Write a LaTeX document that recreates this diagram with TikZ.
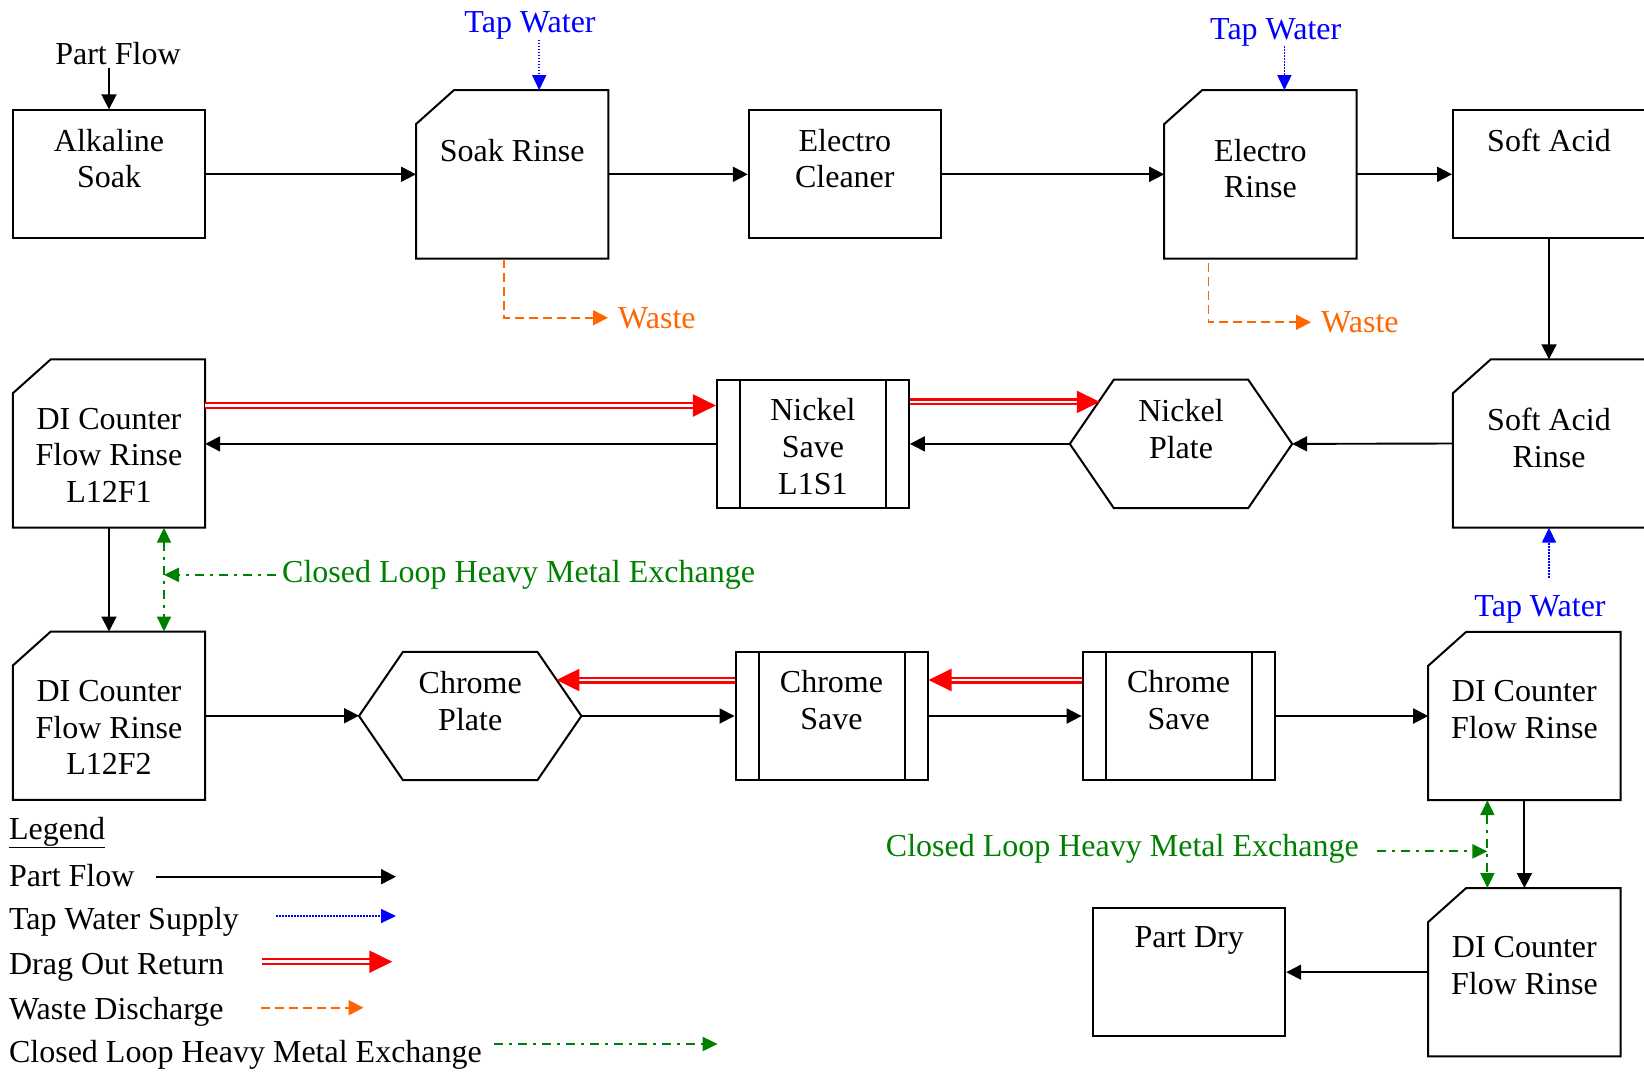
\documentclass[tikz,border=0pt]{standalone}
\usepackage{fontspec}
\setmainfont{Liberation Serif}
\usetikzlibrary{arrows.meta,positioning}
\definecolor{tapblue}{RGB}{0,0,255}
\definecolor{wasteorange}{RGB}{255,102,0}
\definecolor{metalgreen}{RGB}{0,128,0}
\definecolor{dragred}{RGB}{255,0,0}
\begin{document}
\begin{tikzpicture}[x=1pt,y=-1pt,
	unit/.style={draw, line width=2pt, minimum width=192pt, minimum height=128pt, inner sep=0pt},
	tank/.style={minimum width=192pt, minimum height=168pt, inner sep=0pt},
	hexa/.style={minimum width=222pt, minimum height=128pt, inner sep=0pt},
	shapeline/.style={line width=2pt, line join=miter},
	txtlbl/.style={font=\fontsize{32}{36.7}\selectfont, align=center, inner sep=0pt},
	flowline/.style={line width=1.9pt, -{Triangle[length=15pt,width=15pt]}},
	tapline/.style={draw=tapblue, line width=1.6pt, dash pattern=on 1.5pt off 1.5pt, -{Triangle[length=15pt,width=14pt]}},
	wasteline/.style={draw=wasteorange, line width=1.8pt, dash pattern=on 9pt off 5pt, -{Triangle[length=15pt,width=15pt]}},
	dragline/.style={draw=dragred, line width=2.2pt, double=white, double distance=2.6pt, -{Triangle[length=23pt,width=22pt]}},
	metalline/.style={draw=metalgreen, line width=2pt, dash pattern=on 9pt off 6pt on 3pt off 6pt, -{Triangle[length=15pt,width=14pt]}},
	metalboth/.style={metalline, {Triangle[length=15pt,width=14pt]}-{Triangle[length=15pt,width=14pt]}}]
	\useasboundingbox (0,0) rectangle (1644,1072);

	\node[unit] (alk) at (109,174.3) {};
	\node[txtlbl, below=19.5pt of alk.north] (alk-t) {Alkaline\\Soak};
	\node[tank] (sr) at (512.2,174.3) {};
	\draw[shapeline] ([yshift=-34pt]sr.north west) -- ([xshift=38pt]sr.north west) -- (sr.north east) -- (sr.south east) -- (sr.south west) -- cycle;
	\node[txtlbl, below=48.5pt of sr.north] (sr-t) {Soak Rinse};
	\node[unit] (ec) at (844.8,174.3) {};
	\node[txtlbl, below=19.5pt of ec.north] (ec-t) {Electro\\Cleaner};
	\node[tank] (er) at (1260.4,174.3) {};
	\draw[shapeline] ([yshift=-34pt]er.north west) -- ([xshift=38pt]er.north west) -- (er.north east) -- (er.south east) -- (er.south west) -- cycle;
	\node[txtlbl, below=48.5pt of er.north] (er-t) {Electro\\Rinse};
	\node[unit] (sa) at (1549,174.3) {};
	\node[txtlbl, below=19.5pt of sa.north] (sa-t) {Soft Acid};

	\node[tank] (sar) at (1549,443.5) {};
	\draw[shapeline] ([yshift=-34pt]sar.north west) -- ([xshift=38pt]sar.north west) -- (sar.north east) -- (sar.south east) -- (sar.south west) -- cycle;
	\node[txtlbl, below=48.5pt of sar.north] (sar-t) {Soft Acid\\Rinse};
	\node[hexa] (ni) at (1181,443.9) {};
	\draw[shapeline] (ni.west) -- ([xshift=44pt]ni.north west) -- ([xshift=-44pt]ni.north east) -- (ni.east) -- ([xshift=-44pt]ni.south east) -- ([xshift=44pt]ni.south west) -- cycle;
	\node[txtlbl, below=19.5pt of ni.north] (ni-t) {Nickel\\Plate};
	\node[unit] (ns) at (812.9,443.9) {};
	\draw[shapeline] ([xshift=24pt]ns.north west) -- ([xshift=24pt]ns.south west);
	\draw[shapeline] ([xshift=-24pt]ns.north east) -- ([xshift=-24pt]ns.south east);
	\node[txtlbl, below=19.5pt of ns.north] (ns-t) {Nickel\\Save\\L1S1};
	\node[tank] (d1) at (109,443.5) {};
	\draw[shapeline] ([yshift=-34pt]d1.north west) -- ([xshift=38pt]d1.north west) -- (d1.north east) -- (d1.south east) -- (d1.south west) -- cycle;
	\node[txtlbl, below=48.5pt of d1.north] (d1-t) {DI Counter\\Flow Rinse\\L12F1};

	\node[tank] (d2) at (109,715.7) {};
	\draw[shapeline] ([yshift=-34pt]d2.north west) -- ([xshift=38pt]d2.north west) -- (d2.north east) -- (d2.south east) -- (d2.south west) -- cycle;
	\node[txtlbl, below=48.5pt of d2.north] (d2-t) {DI Counter\\Flow Rinse\\L12F2};
	\node[hexa] (cp) at (470.2,716) {};
	\draw[shapeline] (cp.west) -- ([xshift=44pt]cp.north west) -- ([xshift=-44pt]cp.north east) -- (cp.east) -- ([xshift=-44pt]cp.south east) -- ([xshift=44pt]cp.south west) -- cycle;
	\node[txtlbl, below=19.5pt of cp.north] (cp-t) {Chrome\\Plate};
	\node[unit] (cs1) at (831.5,716) {};
	\draw[shapeline] ([xshift=24pt]cs1.north west) -- ([xshift=24pt]cs1.south west);
	\draw[shapeline] ([xshift=-24pt]cs1.north east) -- ([xshift=-24pt]cs1.south east);
	\node[txtlbl, below=19.5pt of cs1.north] (cs1-t) {Chrome\\Save};
	\node[unit] (cs2) at (1178.6,716) {};
	\draw[shapeline] ([xshift=24pt]cs2.north west) -- ([xshift=24pt]cs2.south west);
	\draw[shapeline] ([xshift=-24pt]cs2.north east) -- ([xshift=-24pt]cs2.south east);
	\node[txtlbl, below=19.5pt of cs2.north] (cs2-t) {Chrome\\Save};
	\node[tank] (d3) at (1524.4,716) {};
	\draw[shapeline] ([yshift=-34pt]d3.north west) -- ([xshift=38pt]d3.north west) -- (d3.north east) -- (d3.south east) -- (d3.south west) -- cycle;
	\node[txtlbl, below=48.5pt of d3.north] (d3-t) {DI Counter\\Flow Rinse};
	\node[tank] (d4) at (1524.4,972.2) {};
	\draw[shapeline] ([yshift=-34pt]d4.north west) -- ([xshift=38pt]d4.north west) -- (d4.north east) -- (d4.south east) -- (d4.south west) -- cycle;
	\node[txtlbl, below=48.5pt of d4.north] (d4-t) {DI Counter\\Flow Rinse};
	\node[unit] (pd) at (1189.2,972.2) {};
	\node[txtlbl, below=19.5pt of pd.north] (pd-t) {Part Dry};

	\node[txtlbl, anchor=base] (pf) at (118,64) {Part Flow};
	\node[txtlbl, anchor=base, text=tapblue] (tw1) at (530,32.5) {Tap Water};
	\node[txtlbl, anchor=base, text=tapblue] (tw2) at (1275.7,39) {Tap Water};
	\node[txtlbl, anchor=base, text=tapblue] (tw3) at (1540,616) {Tap Water};
	\node[txtlbl, anchor=base west, inner xsep=10pt, text=wasteorange] (w1) at (608,328) {Waste};
	\node[txtlbl, anchor=base west, inner xsep=10pt, text=wasteorange] (w2) at (1311,332.5) {Waste};
	\node[txtlbl, anchor=base west, inner xsep=6pt, text=metalgreen] (cl1) at (276,582.5) {Closed Loop Heavy Metal Exchange};
	\node[txtlbl, anchor=base west, text=metalgreen] (cl2) at (885.7,856) {Closed Loop Heavy Metal Exchange};

	\draw[flowline, shorten <=3pt] (pf.south -| alk.north) -- (alk.north);
	\draw[flowline] (alk.east) -- (sr.west);
	\draw[flowline] (sr.east) -- (ec.west);
	\draw[flowline] (ec.east) -- (er.west);
	\draw[flowline] (er.east) -- (sa.west);
	\draw[flowline] (sa.south) -- (sar.north);
	\draw[flowline] (sar.west) -- (ni.east);
	\draw[flowline] (ni.west) -- (ns.east);
	\draw[flowline] (ns.west) -- (ns.west -| d1.east);
	\draw[flowline] (d1.south) -- (d2.north);
	\draw[flowline] (d2.east) -- (d2.east -| cp.west);
	\draw[flowline] (cp.east) -- (cs1.west);
	\draw[flowline] (cs1.east) -- (cs2.west);
	\draw[flowline] (cs2.east) -- (d3.west);
	\draw[flowline] (d3.south) -- (d4.north);
	\draw[flowline] (d4.west) -- (pd.east);

	\coordinate (r1) at ([yshift=38pt]d1.east);
	\draw[dragline] (r1) -- (r1 -| ns.west);
	\draw[dragline] ([yshift=42pt]ns.east) -- ([xshift=30pt,yshift=42pt]ni.west);
	\draw[dragline] ([yshift=36pt]cs1.west) -- ([xshift=-25pt,yshift=36pt]cp.east);
	\draw[dragline] ([yshift=36pt]cs2.west) -- ([yshift=36pt]cs1.east);

	\coordinate (tw1in) at ([xshift=27pt]sr.north);
	\coordinate (tw2in) at ([xshift=24pt]er.north);
	\draw[tapline] (tw1.south -| tw1in) -- (tw1in);
	\draw[tapline] (tw2.south -| tw2in) -- (tw2in);
	\draw[tapline, shorten <=17pt] (tw3.north -| sar.south) -- (sar.south);

	\draw[wasteline] ([xshift=-8pt]sr.south) |- (w1.west);
	\draw[wasteline] ([xshift=-52pt,yshift=-4pt]er.south) |- (w2.west);

	\coordinate (m1a) at ([xshift=55pt]d1.south);
	\coordinate (m1b) at ([xshift=55pt]d2.north);
	\draw[metalboth] (m1a) -- (m1b);
	\draw[metalline] (cl1.west) -- (cl1.west -| m1a);
	\coordinate (m2a) at ([xshift=-37pt]d3.south);
	\coordinate (m2b) at ([xshift=-37pt]d4.north);
	\draw[metalboth] (m2a) -- (m2b);
	\draw[metalline, shorten <=18pt] ([yshift=-3pt]cl2.east) -- ([yshift=-3pt]cl2.east -| m2a);

	\node[txtlbl, anchor=base west] (lg) at (8.9,839) {\underline{Legend}};
	\node[txtlbl, anchor=base west] (lg1) at (8.9,886) {Part Flow};
	\node[txtlbl, anchor=base west] (lg2) at (8.9,929) {Tap Water Supply};
	\node[txtlbl, anchor=base west] (lg3) at (8.9,974) {Drag Out Return};
	\node[txtlbl, anchor=base west] (lg4) at (8.9,1019) {Waste Discharge};
	\node[txtlbl, anchor=base west] (lg5) at (8.9,1062.5) {Closed Loop Heavy Metal Exchange};
	\coordinate (lg1a) at (156,876.7);
	\coordinate (lg1b) at (396,876.7);
	\coordinate (lg2a) at (276,916);
	\coordinate (lg2b) at (396,916);
	\coordinate (lg3a) at (261.5,961.7);
	\coordinate (lg3b) at (392.3,961.7);
	\coordinate (lg4a) at (260.5,1007.7);
	\coordinate (lg4b) at (363.5,1007.7);
	\coordinate (lg5a) at (494.2,1044);
	\coordinate (lg5b) at (717.6,1044);
	\draw[flowline] (lg1a) -- (lg1b);
	\draw[tapline] (lg2a) -- (lg2b);
	\draw[dragline] (lg3a) -- (lg3b);
	\draw[wasteline] (lg4a) -- (lg4b);
	\draw[metalline] (lg5a) -- (lg5b);
\end{tikzpicture}
\end{document}
